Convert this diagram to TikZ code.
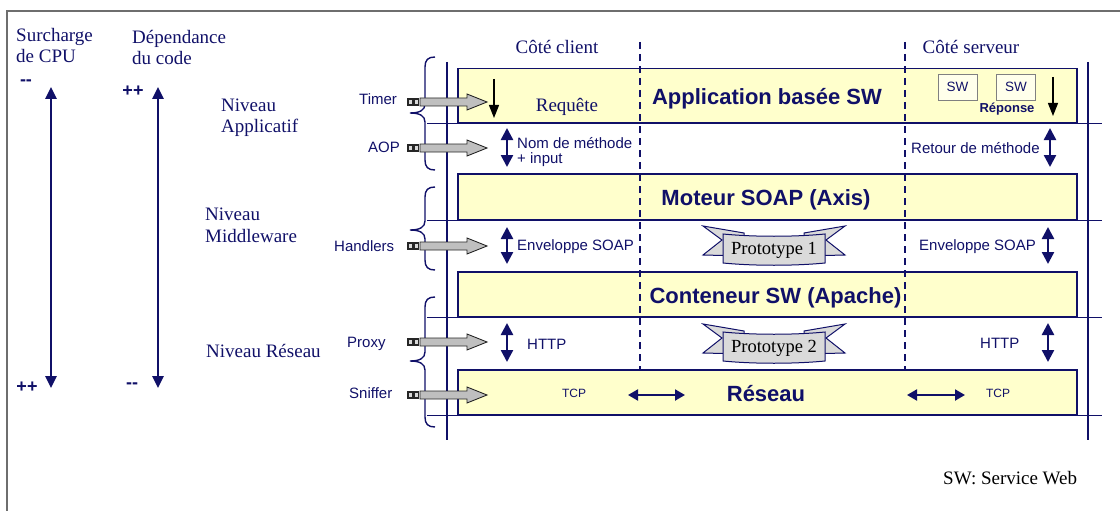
\documentclass[tikz,border=0pt]{standalone}
\usepackage{fontspec}
\setmainfont{Liberation Serif}
\setsansfont{Liberation Sans}
\usetikzlibrary{arrows.meta}
\definecolor{navy}{RGB}{16,16,104}
\definecolor{boxyellow}{RGB}{255,255,204}
\definecolor{framegray}{RGB}{110,110,110}
\definecolor{ribbongray}{RGB}{218,218,218}
\newcommand\layerbrace[3]{%
  \draw[navy, line width=1.4pt] (435,#1) .. controls (428,#1) and (425,#1+3) .. (425,#1+10)
    -- (425,#2-9) .. controls (425,#2-3) and (420,#2) .. (410,#2)
    .. controls (420,#2) and (425,#2+3) .. (425,#2+9)
    -- (425,#3-10) .. controls (425,#3-3) and (428,#3) .. (435,#3);}
\tikzset{
  probe/.pic={
    \draw[black!85, fill=gray!30, line width=1.2pt] (0,-3) rectangle (4.5,3);
    \draw[black!85, fill=gray!30, line width=1.2pt] (6,-3) rectangle (10.5,3);
    \draw[black!85, fill=gray!50, line width=0.9pt] (12,-4) -- (59,-4) -- (59,-8) -- (79,0) -- (59,8) -- (59,4) -- (12,4) -- cycle;
  },
  ribbonbg/.pic={
    \draw[navy, fill=ribbongray, line width=1pt] (-71,-22) -- (-30,-15) -- (-30,8) -- (-71,7) -- (-52,-8) -- cycle;
    \draw[navy, fill=ribbongray, line width=1pt] (71,-22) -- (30,-15) -- (30,8) -- (71,7) -- (52,-8) -- cycle;
    \draw[navy, fill=ribbongray, line width=1pt] (-51,-14) .. controls (-20,-11) and (20,-11) .. (51,-14)
      -- (51,15) .. controls (20,18) and (-20,18) .. (-51,15) -- cycle;
  }
}
\begin{document}
\begin{tikzpicture}[x=1pt,y=-1pt,
  serif/.style={font=\fontsize{19}{21}\selectfont, text=navy, inner sep=0pt},
  proto/.style={font=\fontsize{18.5}{20}\selectfont, text=black, inner sep=0pt},
  lbl/.style={font=\sffamily\fontsize{15}{17}\selectfont, text=navy, inner sep=0pt},
  small/.style={font=\sffamily\fontsize{12}{14}\selectfont, text=navy, inner sep=0pt},
  pm/.style={font=\sffamily\bfseries\fontsize{18}{20}\selectfont, text=navy, inner sep=0pt},
  bigbold/.style={font=\sffamily\bfseries\fontsize{22}{24}\selectfont, text=navy, inner sep=0pt},
  layer/.style={draw=navy, line width=1.5pt, fill=boxyellow, minimum width=619pt, inner sep=0pt, anchor=north west},
  swbox/.style={draw=gray, line width=0.8pt, fill=boxyellow!40!white, minimum width=39pt, minimum height=26pt, inner sep=0pt,
    font=\sffamily\fontsize{13.5}{15}\selectfont, text=navy},
  sep/.style={draw=navy, line width=1.5pt},
  dashsep/.style={draw=navy, line width=1.6pt, dash pattern=on 7pt off 5pt},
  dbl/.style={navy, line width=2.5pt, {Triangle[width=12pt,length=12pt]}-{Triangle[width=12pt,length=12pt]}},
  hdbl/.style={navy, line width=2pt, {Triangle[width=11pt,length=10pt]}-{Triangle[width=11pt,length=10pt]}},
  bigdbl/.style={navy, line width=2.6pt, {Triangle[width=11pt,length=12pt]}-{Triangle[width=11pt,length=12pt]}},
  down/.style={black, line width=1.3pt, -{Triangle[width=10pt,length=13pt]}}
]
\useasboundingbox (0,0) rectangle (1120,511);
% frame
\draw[framegray, line width=1.5pt] (7,511) -- (7,11) -- (1120,11);

% left texts
\node[serif, anchor=base west] (cpu1) at (16,42) {Surcharge};
\node[serif, anchor=base west] (cpu2) at (16,63) {de CPU};
\node[serif, anchor=base west] (dep1) at (132,44) {Dépendance};
\node[serif, anchor=base west] (dep2) at (132,65) {du code};
\node[pm] (cpuminus) at (26,83) {-{}-};
\node[pm] (depplus) at (133,91) {++};
\node[pm] (cpuplus) at (27,387) {++};
\node[pm] (depminus) at (132,386) {-{}-};
\coordinate (cpuTop) at (51,87);
\coordinate (cpuBot) at (51,388);
\coordinate (depTop) at (158,87);
\coordinate (depBot) at (158,388);
\draw[bigdbl] (cpuTop) -- (cpuBot);
\draw[bigdbl] (depTop) -- (depBot);

\node[serif, anchor=base west] (na1) at (221,111) {Niveau};
\node[serif, anchor=base west] (na2) at (221,132) {Applicatif};
\node[serif, anchor=base west] (nm1) at (205,220) {Niveau};
\node[serif, anchor=base west] (nm2) at (205,242) {Middleware};
\node[serif, anchor=base west] (nr) at (206,357) {Niveau Réseau};

% headers
\node[serif, anchor=base] (client) at (557,54) {Côté client};
\node[serif, anchor=base] (serveur) at (971,54) {Côté serveur};

% layer boxes
\node[layer, minimum height=54pt] (app) at (457,68) {};
\node[layer, minimum height=46pt] (moteur) at (457,173) {};
\node[layer, minimum height=45pt] (conteneur) at (457,271) {};
\node[layer, minimum height=45pt] (reseau) at (457,369) {};

% frame lines
\coordinate (L) at (427,0);
\coordinate (R) at (1102,0);
\draw[sep] (L |- app.south) -- (R |- app.south);
\draw[sep] (L |- moteur.south) -- (R |- moteur.south);
\draw[sep] (L |- conteneur.south) -- (R |- conteneur.south);
\draw[sep] (L |- reseau.south) -- (R |- reseau.south);
\coordinate (vlT) at (447,62);
\coordinate (vlB) at (447,440);
\coordinate (vrT) at (1088,62);
\coordinate (vrB) at (1088,440);
\draw[sep] (vlT) -- (vlB);
\draw[sep] (vrT) -- (vrB);
\coordinate (dcT) at (640,42);
\coordinate (dsT) at (905,42);
\draw[dashsep] (dcT) -- (dcT |- reseau.north);
\draw[dashsep] (dsT) -- (dsT |- reseau.north);

% braces
\layerbrace{57}{113}{170}
\layerbrace{187}{230}{270}
\layerbrace{297}{361}{427}

% probes
\node[lbl, anchor=base west] (timer) at (359,105) {Timer};
\node[lbl, anchor=base west] (aop) at (368,152) {AOP};
\node[lbl, anchor=base west] (handlers) at (334,251) {Handlers};
\node[lbl, anchor=base west] (proxy) at (347,347) {Proxy};
\node[lbl, anchor=base west] (sniffer) at (349,398) {Sniffer};
\pic at (408,102) {probe};
\pic at (408,148) {probe};
\pic at (408,246) {probe};
\pic at (408,342) {probe};
\pic at (408,395) {probe};

% application layer
\node[bigbold, anchor=base] (apptxt) at (767,105) {Application basée SW};
\node[serif, anchor=base] (requete) at (567,111) {Requête};
\coordinate (rqT) at (494,79);
\coordinate (rqB) at (494,118);
\draw[down] (rqT) -- (rqB);
\node[swbox] (sw1) at (957.5,87) {SW};
\node[swbox] (sw2) at (1016,87) {SW};
\node[font=\sffamily\bfseries\fontsize{13}{15}\selectfont, text=navy, inner sep=0pt, anchor=base] (reponse) at (1007,113) {Réponse};
\coordinate (rpT) at (1053,77);
\coordinate (rpB) at (1053,116);
\draw[down] (rpT) -- (rpB);

% AOP row
\coordinate (a1T) at (507,128); \coordinate (a1B) at (507,167);
\draw[dbl] (a1T) -- (a1B);
\node[lbl, anchor=base west] (nom) at (517,148) {Nom de méthode};
\node[lbl, anchor=base west] (input) at (517,163) {+ input};
\node[lbl, anchor=base west] (retour) at (911,153) {Retour de méthode};
\coordinate (a2T) at (1050,128); \coordinate (a2B) at (1050,167);
\draw[dbl] (a2T) -- (a2B);

% moteur
\node[bigbold, anchor=base] (motxt) at (766,205) {Moteur SOAP (Axis)};

% handlers row
\coordinate (h1T) at (507,227); \coordinate (h1B) at (507,264);
\draw[dbl] (h1T) -- (h1B);
\node[lbl, anchor=base west] (env1) at (517,250) {Enveloppe SOAP};
\node[lbl, anchor=base west] (env2) at (919,250) {Enveloppe SOAP};
\coordinate (h2T) at (1048,227); \coordinate (h2B) at (1048,264);
\draw[dbl] (h2T) -- (h2B);
\pic at (774,248) {ribbonbg};
\node[proto] (proto1) at (774,250) {Prototype 1};

% conteneur
\node[bigbold, anchor=base] (cotxt) at (775.5,303) {Conteneur SW (Apache)};

% proxy row
\coordinate (p1T) at (507,323); \coordinate (p1B) at (507,362);
\draw[dbl] (p1T) -- (p1B);
\node[lbl, anchor=base west] (http1) at (527,349) {HTTP};
\node[lbl, anchor=base west] (http2) at (980,348) {HTTP};
\coordinate (p2T) at (1048,323); \coordinate (p2B) at (1048,362);
\draw[dbl] (p2T) -- (p2B);
\pic at (774,346) {ribbonbg};
\node[proto] (proto2) at (774,348) {Prototype 2};

% reseau
\node[bigbold, anchor=base] (retxt) at (766,401) {Réseau};
\node[small, anchor=base] (tcp1) at (574,397) {TCP};
\node[small, anchor=base] (tcp2) at (998,397) {TCP};
\coordinate (t1L) at (628,395); \coordinate (t1R) at (685,395);
\draw[hdbl] (t1L) -- (t1R);
\coordinate (t2L) at (907,395); \coordinate (t2R) at (965,395);
\draw[hdbl] (t2L) -- (t2R);

% legend
\node[serif, text=black, anchor=base west] (legend) at (943,484) {SW: Service Web};
\end{tikzpicture}
\end{document}
